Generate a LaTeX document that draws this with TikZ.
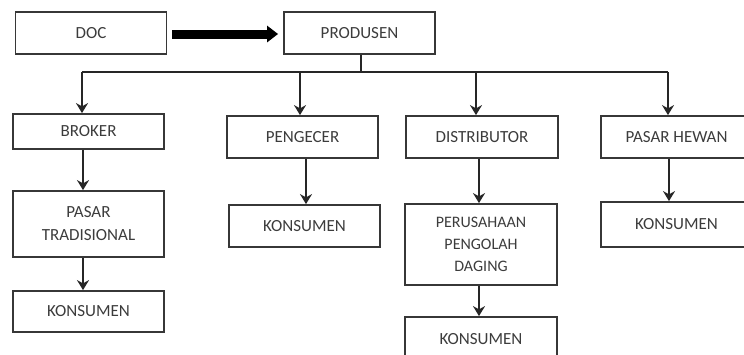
\documentclass[tikz,border=0pt]{standalone}
\usepackage{fontspec}
\setmainfont{Carlito}
\usetikzlibrary{arrows.meta}
\usetikzlibrary{calc}
\definecolor{garis}{RGB}{55, 55, 55}
\definecolor{tulisan}{RGB}{60, 60, 60}
\tikzset{
  kotak/.style={draw=garis, line width=1.8pt, inner sep=0pt, align=center,
                text=tulisan, font=\fontsize{17}{23}\selectfont},
  cabangan/.style={draw=black!85, line width=1.8pt},
  panah/.style={cabangan, -{Stealth[length=10pt,width=12pt]}},
  panahtebal/.style={draw=black, line width=9pt, -{Triangle[length=11pt,width=16pt]}}
}

\begin{document}
\begin{tikzpicture}[x=1pt, y=-1pt]
            \useasboundingbox (0,0) rectangle (744,354);
            \clip (0,0) rectangle (744,354);
            % baris atas
            \node[kotak, minimum width=151pt, minimum height=42pt] (doc)      at ( 91.0, 33.0) {DOC};
            \node[kotak, minimum width=151pt, minimum height=42pt] (produsen) at (359.5, 33.0) {PRODUSEN};
            % baris kedua
            \node[kotak, minimum width=151pt, minimum height=35pt] (broker)      at ( 88.5,131.5) {BROKER};
            \node[kotak, minimum width=151pt, minimum height=42pt] (pengecer)    at (302.5,137.0) {PENGECER};
            \node[kotak, minimum width=152pt, minimum height=42pt] (distributor) at (482.0,137.0) {DISTRIBUTOR};
            \node[kotak, minimum width=151pt, minimum height=42pt] (hewan)       at (676.5,137.0) {PASAR HEWAN};
            % baris ketiga
            \node[kotak, minimum width=151pt, minimum height=66pt] (tradisional) at ( 88.5,224.0) {PASAR\\TRADISIONAL};
            \node[kotak, minimum width=151pt, minimum height=42pt] (konsumenb)   at (304.5,226.0) {KONSUMEN};
            \node[kotak, minimum width=152pt, minimum height=81pt,
                  font=\fontsize{16}{22}\selectfont]                (pengolah)    at (481.0,244.5) {PERUSAHAAN\\PENGOLAH\\DAGING};
            \node[kotak, minimum width=151pt, minimum height=45pt] (konsumend)   at (676.5,224.5) {KONSUMEN};
            % baris bawah
            \node[kotak, minimum width=151pt, minimum height=41pt] (konsumena)   at ( 88.5,311.5) {KONSUMEN};
            \node[kotak, minimum width=152pt, minimum height=44pt] (konsumenc)   at (481.0,339.0) {KONSUMEN};
            % percabangan
            \coordinate (cabang) at (361,72);
            \coordinate (ca) at ( 82,72);
            \coordinate (cb) at (300,72);
            \coordinate (cc) at (476,72);
            \coordinate (cd) at (668,72);
            \draw[panahtebal] (doc.east) ++(5,1) -- ($(produsen.west)+(-5,1)$);
            \draw[cabangan] (cabang |- produsen.south) -- (cabang);
            \draw[cabangan] (ca) -- (cd);
            \draw[panah] (ca) -- (ca |- broker.north);
            \draw[panah] (cb) -- (cb |- pengecer.north);
            \draw[panah] (cc) -- (cc |- distributor.north);
            \draw[panah] (cd) -- (cd |- hewan.north);
            % panah ke bawah
            \coordinate (ja) at ( 83,0);
            \coordinate (jb) at (306,0);
            \coordinate (jc) at (479,0);
            \coordinate (jd) at (669,0);
            \draw[panah] (ja |- broker.south)      -- (ja |- tradisional.north);
            \draw[panah] (ja |- tradisional.south) -- (ja |- konsumena.north);
            \draw[panah] (jb |- pengecer.south)    -- (jb |- konsumenb.north);
            \draw[panah] (jc |- distributor.south) -- (jc |- pengolah.north);
            \draw[panah] (jc |- pengolah.south)    -- (jc |- konsumenc.north);
            \draw[panah] (jd |- hewan.south)       -- (jd |- konsumend.north);
        \end{tikzpicture}
\end{document}
